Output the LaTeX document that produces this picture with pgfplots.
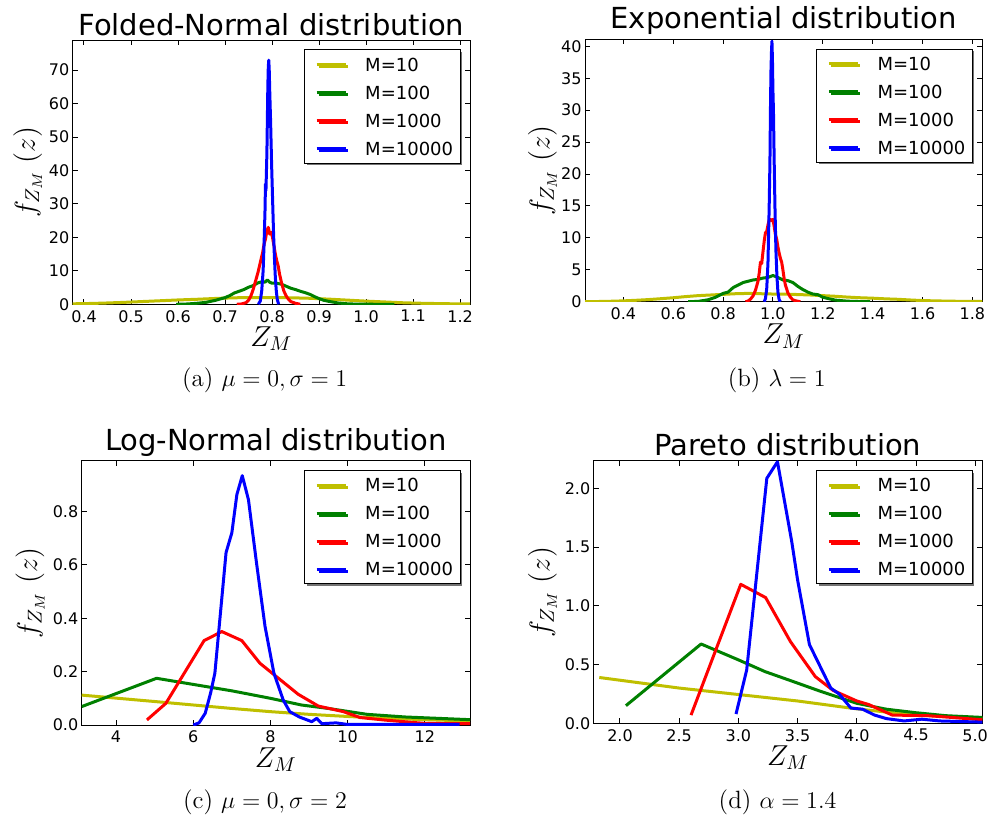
\documentclass[border=0pt]{standalone}
\usepackage{fontspec}
\usepackage{pgfplots}
\pgfplotsset{compat=1.18}
\usetikzlibrary{shadows}
\newfontfamily\dv{DejaVu Sans}
\definecolor{myy}{rgb}{0.75,0.75,0}
\definecolor{myg}{rgb}{0,0.5,0}
\definecolor{myr}{rgb}{1,0,0}
\definecolor{myb}{rgb}{0,0,1}
\pgfplotsset{
 panel/.style={
  scale only axis, clip=true,
  axis line style={black, line width=0.5pt},
  every tick/.style={black, line width=0.5pt},
  major tick length=2.5pt,
  tick align=inside,
  ticklabel style={font=\dv\fontsize{8}{9.6}\selectfont},
  xticklabel style={yshift=0.6pt},
  yticklabel style={xshift=1.8pt},
  every axis title/.style={at={(0.5,1)}, anchor=south, yshift=2pt, inner sep=0pt, font=\dv\fontsize{14.5}{17}\selectfont},
  every axis x label/.style={at={(axis description cs:0.5,0)}, anchor=base, yshift=-21pt, font=\fontsize{14.4}{17}\selectfont},
  xlabel={$Z_M$}, ylabel={$f_{Z_M}\;(z)$},
  legend cell align=left,
  legend style={draw=black, line width=0.5pt, fill=white, at={(1,1)}, anchor=north east, xshift=-4.7pt, yshift=-4.7pt,
    font=\dv\fontsize{9}{10.8}\selectfont, inner xsep=1.5pt, inner ysep=2.5pt, row sep=4.4pt,
    nodes={inner xsep=2pt, inner ysep=1.5pt, text height=6.6pt, text depth=0pt},
    /tikz/every odd column/.append style={column sep=7.85pt},
    drop shadow={shadow xshift=1pt, shadow yshift=-1pt, fill=black!55, opacity=1}},
  legend image code/.code={\pgfpathrectangle{\pgfpointorigin}{\pgfpoint{19pt}{0.1pt}}\pgfusepath{use as bounding box}\draw[#1] (4.5pt,0pt) -- (19pt,0pt);},
  every axis plot/.append style={line width=1.5pt, line join=round},
 },
 ylab/.style={every axis y label/.style={at={(axis description cs:0,0.5)}, xshift=#1, rotate=90, anchor=center, font=\fontsize{14.4}{17}\selectfont}},
}
\begin{document}
\begin{tikzpicture}
\useasboundingbox (0,0) rectangle (494.5pt,407.5pt);
% ---------------- (a) Folded-Normal
\begin{axis}[panel, ylab=-22.5pt, at={(36.35pt,255.35pt)}, width=198.65pt, height=132.15pt,
  title={Folded-Normal distribution},
  xmin=0.376, xmax=1.221, ymin=0, ymax=79,
  xtick={0.4,0.5,0.6,0.7,0.8,0.9,1.0,1.1,1.2}, xticklabels={0.4,0.5,0.6,0.7,0.8,0.9,1.0,1.1,1.2},
  ytick={0,10,20,30,40,50,60,70}, yticklabels={0,10,20,30,40,50,60,70}]
\addplot[myy] coordinates {(0.376,0.15) (0.40,0.2) (0.44,0.35) (0.48,0.55) (0.52,0.8) (0.56,1.05) (0.60,1.3) (0.64,1.5) (0.68,1.75) (0.72,1.95) (0.76,2.0) (0.80,2.0) (0.84,1.95) (0.88,1.8) (0.92,1.55) (0.96,1.25) (1.00,0.95) (1.04,0.7) (1.08,0.45) (1.12,0.3) (1.16,0.2) (1.20,0.12) (1.221,0.1)};
\addlegendentry{M=10}
\addplot[myg] coordinates {(0.596,0) (0.62,0.1) (0.64,0.3) (0.66,0.6) (0.68,1.2) (0.70,2.0) (0.71,2.6) (0.72,3.4) (0.73,3.9) (0.74,4.4) (0.75,5.1) (0.76,5.6) (0.77,6.4) (0.78,6.8) (0.785,6.6) (0.79,7.3) (0.795,6.6) (0.80,6.3) (0.81,6.3) (0.82,6.0) (0.83,5.4) (0.84,4.8) (0.85,4.4) (0.86,3.9) (0.87,3.5) (0.88,3.0) (0.89,2.3) (0.90,1.7) (0.91,1.2) (0.92,0.9) (0.94,0.4) (0.96,0.15) (0.98,0.05) (1.0,0.02) (1.06,0)};
\addlegendentry{M=100}
\addplot[myr] coordinates {(0.725,0) (0.735,0.1) (0.745,0.5) (0.75,1.2) (0.755,2.5) (0.76,4.5) (0.765,7) (0.77,9.5) (0.775,12.5) (0.78,15.5) (0.783,18) (0.786,19.5) (0.789,22) (0.792,23) (0.795,21) (0.798,21.5) (0.801,20) (0.804,17.5) (0.807,15) (0.81,13) (0.813,11.5) (0.816,9) (0.82,6.5) (0.825,4) (0.83,2.5) (0.835,1.5) (0.84,0.8) (0.85,0.3) (0.86,0)};
\addlegendentry{M=1000}
\addplot[myb] coordinates {(0.771,0) (0.775,1) (0.778,4) (0.781,10) (0.783,18) (0.785,28) (0.786,36) (0.787,34) (0.789,45) (0.790,55) (0.791,65) (0.792,71) (0.793,73) (0.794,70) (0.795,64) (0.797,54) (0.799,42) (0.801,32) (0.803,22) (0.805,14) (0.807,8) (0.809,4) (0.811,1.5) (0.814,0)};
\addlegendentry{M=10000}
\end{axis}
% ---------------- (b) Exponential
\begin{axis}[panel, ylab=-21.25pt, at={(292.5pt,256.65pt)}, width=198.65pt, height=131.2pt,
  title={Exponential distribution},
  xmin=0.246, xmax=1.84, ymin=0, ymax=41.1,
  xtick={0.4,0.6,0.8,1.0,1.2,1.4,1.6,1.8}, xticklabels={0.4,0.6,0.8,1.0,1.2,1.4,1.6,1.8},
  ytick={0,5,10,15,20,25,30,35,40}, yticklabels={0,5,10,15,20,25,30,35,40}]
\addplot[myy] coordinates {(0.246,0.01) (0.3,0.03) (0.35,0.07) (0.4,0.13) (0.45,0.22) (0.5,0.33) (0.55,0.47) (0.6,0.62) (0.65,0.8) (0.7,0.95) (0.75,1.05) (0.8,1.15) (0.85,1.25) (0.9,1.3) (0.95,1.25) (1.0,1.2) (1.05,1.18) (1.1,1.12) (1.15,1.05) (1.2,0.95) (1.25,0.85) (1.3,0.72) (1.35,0.62) (1.4,0.55) (1.45,0.45) (1.5,0.38) (1.55,0.27) (1.6,0.18) (1.65,0.13) (1.7,0.09) (1.75,0.06) (1.84,0.03)};
\addlegendentry{M=10}
\addplot[myg] coordinates {(0.66,0) (0.7,0.05) (0.74,0.3) (0.77,0.7) (0.8,1.3) (0.82,1.5) (0.84,2.2) (0.86,2.6) (0.88,3.0) (0.9,3.2) (0.92,3.4) (0.94,3.5) (0.96,3.7) (0.98,3.8) (1.0,4.1) (1.02,3.8) (1.04,3.4) (1.06,3.3) (1.08,3.0) (1.1,2.4) (1.12,1.9) (1.14,1.5) (1.16,1.2) (1.18,1.1) (1.2,0.7) (1.22,0.5) (1.25,0.25) (1.3,0.08) (1.35,0.02) (1.39,0)};
\addlegendentry{M=100}
\addplot[myr] coordinates {(0.89,0) (0.9,0.1) (0.91,0.4) (0.92,0.9) (0.93,1.8) (0.94,3.2) (0.945,4.5) (0.95,6.2) (0.955,6.0) (0.96,7.8) (0.965,9.5) (0.97,10.8) (0.975,11.0) (0.98,12.0) (0.985,12.8) (0.99,12.9) (0.995,12.7) (1.0,12.9) (1.005,11.8) (1.01,10.5) (1.015,9.8) (1.02,8.6) (1.025,7.6) (1.03,6.8) (1.035,6.2) (1.04,5.0) (1.045,3.6) (1.05,2.6) (1.06,1.4) (1.07,0.7) (1.08,0.3) (1.09,0.15) (1.11,0)};
\addlegendentry{M=1000}
\addplot[myb] coordinates {(0.965,0) (0.97,0.5) (0.975,2) (0.98,6) (0.985,15) (0.988,22) (0.99,30) (0.992,36) (0.994,39) (0.996,40.8) (0.998,38) (1.0,33) (1.002,30) (1.005,22) (1.008,15) (1.012,8) (1.016,4) (1.02,1.5) (1.025,0.3) (1.03,0)};
\addlegendentry{M=10000}
\end{axis}
% ---------------- (c) Log-Normal
\begin{axis}[panel, ylab=-25.8pt, at={(40.85pt,45pt)}, width=194.15pt, height=132.15pt,
  title={Log-Normal distribution},
  xmin=3.11, xmax=13.17, ymin=0, ymax=0.99,
  xtick={4,6,8,10,12}, xticklabels={4,6,8,10,12},
  ytick={0,0.2,0.4,0.6,0.8}, yticklabels={0.0,0.2,0.4,0.6,0.8}]
\addplot[myy] coordinates {(3.11,0.112) (5,0.088) (6,0.075) (7,0.062) (8,0.05) (9,0.04) (10,0.032) (11,0.025) (12,0.02) (13.17,0.015)};
\addlegendentry{M=10}
\addplot[myg] coordinates {(3.11,0.069) (5.05,0.175) (6,0.152) (7,0.128) (8,0.1) (8.8,0.075) (9.5,0.062) (10.5,0.04) (11.5,0.03) (13.17,0.02)};
\addlegendentry{M=100}
\addplot[myr] coordinates {(4.8,0.019) (5.29,0.081) (6.28,0.316) (6.74,0.35) (7.26,0.316) (7.73,0.231) (8.72,0.115) (9.24,0.071) (9.89,0.05) (10.32,0.028) (11,0.018) (12,0.006) (13.17,0.005)};
\addlegendentry{M=1000}
\addplot[myb] coordinates {(6.0,0) (6.15,0.008) (6.31,0.044) (6.45,0.12) (6.56,0.194) (6.85,0.646) (7.0,0.72) (7.13,0.863) (7.27,0.934) (7.43,0.844) (7.64,0.606) (7.86,0.369) (8.09,0.194) (8.33,0.094) (8.5,0.05) (8.75,0.03) (9.07,0.0125) (9.2,0.025) (9.33,0.005) (9.7,0.008) (10,0.002) (11,0.002) (12.9,0.002)};
\addlegendentry{M=10000}
\end{axis}
% ---------------- (d) Pareto
\begin{axis}[panel, ylab=-25.6pt, at={(296.85pt,45.85pt)}, width=194.3pt, height=131.3pt,
  title={Pareto distribution},
  xmin=1.778, xmax=5.06, ymin=0, ymax=2.235,
  xtick={2,2.5,3,3.5,4,4.5,5}, xticklabels={2.0,2.5,3.0,3.5,4.0,4.5,5.0},
  ytick={0,0.5,1,1.5,2}, yticklabels={0.0,0.5,1.0,1.5,2.0}]
\addplot[myy] coordinates {(1.825,0.39) (2.5,0.3) (3.0,0.245) (3.5,0.19) (3.96,0.128) (4.21,0.1) (4.5,0.07) (5.06,0.045)};
\addlegendentry{M=10}
\addplot[myg] coordinates {(2.05,0.15) (2.685,0.675) (3.0,0.54) (3.225,0.44) (3.45,0.36) (3.7,0.27) (4.0,0.17) (4.25,0.12) (4.5,0.09) (4.75,0.065) (5.06,0.05)};
\addlegendentry{M=100}
\addplot[myr] coordinates {(2.6,0.07) (3.02,1.183) (3.23,1.07) (3.44,0.695) (3.65,0.397) (3.8,0.28) (4.0,0.19) (4.1,0.16) (4.3,0.07) (4.6,0.065) (4.8,0.05) (5.06,0.03)};
\addlegendentry{M=1000}
\addplot[myb] coordinates {(2.98,0.079) (3.07,0.454) (3.24,2.085) (3.33,2.226) (3.45,1.55) (3.5,1.22) (3.6,0.67) (3.78,0.3) (3.85,0.25) (3.95,0.13) (4.05,0.12) (4.15,0.07) (4.25,0.04) (4.4,0.02) (4.55,0.035) (4.7,0.02) (5.06,0.01)};
\addlegendentry{M=10000}
\end{axis}
% ---------------- captions
\node[anchor=base, font=\fontsize{12.5}{15}\selectfont] at (132.35pt,214.5pt) {(a) $\mu=0,\sigma=1$};
\node[anchor=base, font=\fontsize{12.5}{15}\selectfont] at (388.35pt,214.5pt) {(b) $\lambda=1$};
\node[anchor=base, font=\fontsize{12.5}{15}\selectfont] at (132.5pt,3.5pt) {(c) $\mu=0,\sigma=2$};
\node[anchor=base, font=\fontsize{12.5}{15}\selectfont] at (388.75pt,3.5pt) {(d) $\alpha=1.4$};
\end{tikzpicture}
\end{document}
